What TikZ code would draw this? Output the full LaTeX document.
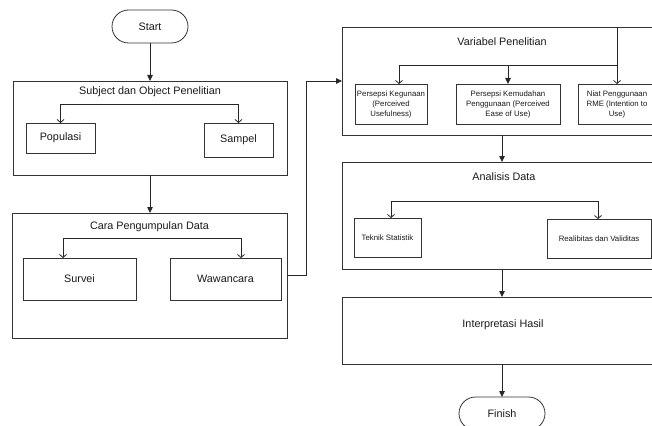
\documentclass[tikz,border=0pt]{standalone}
\usepackage{fontspec}
\setmainfont{Liberation Sans}
\usetikzlibrary{arrows.meta,shapes.misc,calc}
\begin{document}
\begin{tikzpicture}[x=1pt,y=-1pt,
  every node/.style={inner sep=0pt, outer sep=0pt, text=black!90},
  bx/.style={draw=black!80, line width=0.8pt, rectangle},
  big/.style={font=\fontsize{10.8}{13}\selectfont},
  small/.style={font=\fontsize{7.8}{10}\selectfont, align=center},
  term/.style={draw=black!80, line width=0.8pt, rounded rectangle, minimum width=76pt, minimum height=33pt, font=\fontsize{10.8}{13}\selectfont},
  flow/.style={draw=black!85, line width=0.8pt, -{Triangle[length=6pt,width=5.5pt]}},
  branch/.style={draw=black!85, line width=0.8pt, {Straight Barb[length=3pt,width=7pt]}-{Straight Barb[length=3pt,width=7pt]}},
  branchone/.style={draw=black!85, line width=0.8pt, -{Straight Barb[length=3pt,width=7pt]}},
]
\useasboundingbox (0,0) rectangle (652,425);
\clip (0,0) rectangle (652,425);

% left column
\node[term] (start) at (150,26.5) {Start};
\node[bx, minimum width=274pt, minimum height=94pt] (sub) at (150,128) {};
\node[big] (subt) at (150,92) {Subject dan Object Penelitian};
\node[bx, big, minimum width=69pt, minimum height=30pt] (pop) at (60.5,138) {Populasi};
\node[bx, big, minimum width=69pt, minimum height=34pt] (sam) at (238.5,140) {Sampel};
\draw[branch] (pop.north) -- ++(0,-19) -| (sam.north);

\node[bx, minimum width=275pt, minimum height=125pt] (cara) at (149.5,275.5) {};
\node[big] (carat) at (149.5,227) {Cara Pengumpulan Data};
\node[bx, big, minimum width=113pt, minimum height=42pt] (sur) at (79.5,279) {Survei};
\node[bx, big, minimum width=111pt, minimum height=42pt] (waw) at (225.5,279) {Wawancara};
\draw[branch] ([xshift=-16.5pt]sur.north) -- ++(0,-20) -| ([xshift=15.5pt]waw.north);

\draw[flow] (start.south) -- (sub.north);
\draw[flow] (sub.south) -- (sub.south |- cara.north);

% right column
\node[bx, minimum width=320pt, minimum height=108pt] (var) at (502,81) {};
\node[big] (vart) at (502,42) {Variabel Penelitian};
\node[bx, small, minimum width=72pt, minimum height=40pt] (pk) at (391,104) {Persepsi Kegunaan\\(Perceived\\Usefulness)};
\node[bx, small, minimum width=104pt, minimum height=40pt] (pm) at (508,104) {Persepsi Kemudahan\\Penggunaan (Perceived\\Ease of Use)};
\node[bx, small, minimum width=78pt, minimum height=40pt] (niat) at (617,104) {Niat Penggunaan\\RME (Intention to\\Use)};
\coordinate (j) at (617,65);
\draw[branchone] (var.north -| niat.north) -- (niat.north);
\draw[branchone] (j) -| ([xshift=8pt]pk.north);
\draw[flow] (j -| pm.north) -- (pm.north);

\draw[flow] (cara.east) -- ++(19,0) |- (var.west);

\node[bx, minimum width=320pt, minimum height=107pt] (ana) at (502,215.5) {};
\node[big] (anat) at (504,177) {Analisis Data};
\node[bx, small, minimum width=67pt, minimum height=39pt] (tek) at (387.5,237.5) {Teknik Statistik};
\node[bx, small, minimum width=104pt, minimum height=39pt] (rel) at (599,238.5) {Realibitas dan Validitas};
\draw[branch] ([xshift=3.5pt]tek.north) -- ++(0,-17) -| ([xshift=-1pt]rel.north);

\node[bx, minimum width=320pt, minimum height=67pt] (int) at (502,330.5) {};
\node[big] (intt) at (503,325) {Interpretasi Hasil};
\node[term, minimum width=86pt] (fin) at (502,413.5) {Finish};

\draw[flow] (var.south) -- (ana.north);
\draw[flow] (ana.south) -- (int.north);
\draw[flow] (int.south) -- (fin.north);
\end{tikzpicture}
\end{document}
